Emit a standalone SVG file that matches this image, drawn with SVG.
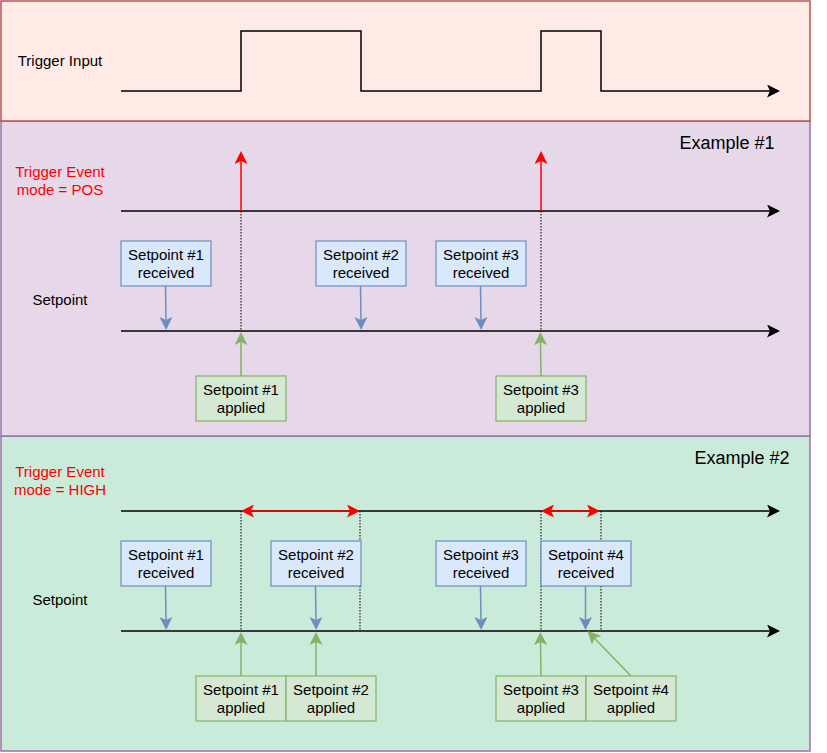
<svg xmlns="http://www.w3.org/2000/svg" width="827" height="753" viewBox="0 0 827 753">
<defs>
<style>
text{font-family:"Liberation Sans",Arial,sans-serif;font-size:15px;fill:#000;text-anchor:middle}
.red{fill:#ff0000}
.big{font-size:18px}
.ax{stroke:#000;stroke-width:1.5;fill:none}
.rd{stroke:#ff0000;stroke-width:1.5;fill:none}
.bl{stroke:#6c8ebf;stroke-width:1.5;fill:none}
.gr{stroke:#82b366;stroke-width:1.5;fill:none}
.dot{stroke:#222;stroke-width:1.2;stroke-dasharray:1.5 1.5;fill:none}
.rb{fill:#dae8fc;stroke:#6c8ebf;stroke-width:1.2}
.gb{fill:#d5e8d4;stroke:#82b366;stroke-width:1.2}
</style>
<marker id="ak" viewBox="0 0 13 13" refX="3" refY="6.5" markerWidth="13" markerHeight="13" markerUnits="userSpaceOnUse" orient="auto-start-reverse"><path d="M0,0 L13,6.5 L0,13 L3,6.5 Z" fill="#000"/></marker>
<marker id="ar" viewBox="0 0 13 13" refX="3" refY="6.5" markerWidth="13" markerHeight="13" markerUnits="userSpaceOnUse" orient="auto-start-reverse"><path d="M0,0 L13,6.5 L0,13 L3,6.5 Z" fill="#ff0000"/></marker>
<marker id="ab" viewBox="0 0 13 13" refX="3" refY="6.5" markerWidth="13" markerHeight="13" markerUnits="userSpaceOnUse" orient="auto-start-reverse"><path d="M0,0 L13,6.5 L0,13 L3,6.5 Z" fill="#6c8ebf"/></marker>
<marker id="ag" viewBox="0 0 13 13" refX="3" refY="6.5" markerWidth="13" markerHeight="13" markerUnits="userSpaceOnUse" orient="auto-start-reverse"><path d="M0,0 L13,6.5 L0,13 L3,6.5 Z" fill="#82b366"/></marker>
</defs>

<g id="panels">
<rect id="panel-ex2" x="1" y="436" width="809" height="315" fill="#cbebda" stroke="#9673a6" stroke-width="1.5"/>
<rect id="panel-ex1" x="1" y="121" width="809" height="315" fill="#e6d8e9" stroke="#9673a6" stroke-width="1.5"/>
<rect id="panel-input" x="1" y="1" width="809" height="120" fill="#ffeae6" stroke="#b85450" stroke-width="1.5"/>
</g>

<g id="labels">
<text x="60" y="66">Trigger Input</text>
<text x="60" y="177" class="red">Trigger Event</text>
<text x="60" y="195" class="red">mode = POS</text>
<text x="60" y="305">Setpoint</text>
<text x="727" y="149" class="big">Example #1</text>
<text x="60" y="477" class="red">Trigger Event</text>
<text x="60" y="495" class="red">mode = HIGH</text>
<text x="60" y="605">Setpoint</text>
<text x="742" y="464" class="big">Example #2</text>
</g>

<g id="connectors">
<path class="ax" d="M121,91 H241 V31 H361 V91 H541 V31 H601 V91 H770" marker-end="url(#ak)"/>
<line class="dot" x1="241" y1="211" x2="241" y2="331"/>
<line class="dot" x1="541" y1="211" x2="541" y2="331"/>
<line class="ax" x1="121" y1="211" x2="770" y2="211" marker-end="url(#ak)"/>
<line class="ax" x1="121" y1="331" x2="770" y2="331" marker-end="url(#ak)"/>
<line class="rd" x1="241" y1="211" x2="241" y2="161" marker-end="url(#ar)"/>
<line class="rd" x1="541" y1="211" x2="541" y2="161" marker-end="url(#ar)"/>
<line class="bl" x1="165.5" y1="286" x2="166" y2="320" marker-end="url(#ab)"/>
<line class="bl" x1="360.5" y1="286" x2="361" y2="320" marker-end="url(#ab)"/>
<line class="bl" x1="480.5" y1="286" x2="481" y2="320" marker-end="url(#ab)"/>
<line class="gr" x1="241" y1="376" x2="241" y2="342" marker-end="url(#ag)"/>
<line class="gr" x1="541" y1="376" x2="540.5" y2="342" marker-end="url(#ag)"/>
<line class="dot" x1="241" y1="511" x2="241" y2="631"/>
<line class="dot" x1="360" y1="511" x2="360" y2="631"/>
<line class="dot" x1="541" y1="511" x2="541" y2="631"/>
<line class="dot" x1="601" y1="511" x2="601" y2="631"/>
<line class="ax" x1="121" y1="511" x2="770" y2="511" marker-end="url(#ak)"/>
<line class="ax" x1="121" y1="631" x2="770" y2="631" marker-end="url(#ak)"/>
<line class="rd" x1="251" y1="511" x2="350" y2="511" marker-start="url(#ar)" marker-end="url(#ar)"/>
<line class="rd" x1="551" y1="511" x2="590" y2="511" marker-start="url(#ar)" marker-end="url(#ar)"/>
<line class="bl" x1="165.5" y1="586" x2="166" y2="620" marker-end="url(#ab)"/>
<line class="bl" x1="315.5" y1="586" x2="316" y2="620" marker-end="url(#ab)"/>
<line class="bl" x1="480.5" y1="586" x2="481" y2="620" marker-end="url(#ab)"/>
<line class="bl" x1="585.5" y1="586" x2="585.5" y2="620" marker-end="url(#ab)"/>
<line class="gr" x1="241" y1="676" x2="241" y2="642" marker-end="url(#ag)"/>
<line class="gr" x1="316" y1="676" x2="316" y2="642" marker-end="url(#ag)"/>
<line class="gr" x1="541" y1="676" x2="540.5" y2="642" marker-end="url(#ag)"/>
<line class="gr" x1="631" y1="676" x2="594.5" y2="638.2" marker-end="url(#ag)"/>
</g>

<g id="ex1-recv1"><rect class="rb" x="121" y="241" width="90" height="45"/><text x="166" y="260">Setpoint #1</text><text x="166" y="278">received</text></g>
<g id="ex1-recv2"><rect class="rb" x="316" y="241" width="90" height="45"/><text x="361" y="260">Setpoint #2</text><text x="361" y="278">received</text></g>
<g id="ex1-recv3"><rect class="rb" x="436" y="241" width="90" height="45"/><text x="481" y="260">Setpoint #3</text><text x="481" y="278">received</text></g>
<g id="ex1-appl1"><rect class="gb" x="196" y="376" width="90" height="45"/><text x="241" y="395">Setpoint #1</text><text x="241" y="413">applied</text></g>
<g id="ex1-appl3"><rect class="gb" x="496" y="376" width="90" height="45"/><text x="541" y="395">Setpoint #3</text><text x="541" y="413">applied</text></g>

<g id="ex2-recv1"><rect class="rb" x="121" y="541" width="90" height="45"/><text x="166" y="560">Setpoint #1</text><text x="166" y="578">received</text></g>
<g id="ex2-recv2"><rect class="rb" x="271" y="541" width="90" height="45"/><text x="316" y="560">Setpoint #2</text><text x="316" y="578">received</text></g>
<g id="ex2-recv3"><rect class="rb" x="436" y="541" width="90" height="45"/><text x="481" y="560">Setpoint #3</text><text x="481" y="578">received</text></g>
<g id="ex2-recv4"><rect class="rb" x="541" y="541" width="90" height="45"/><text x="586" y="560">Setpoint #4</text><text x="586" y="578">received</text></g>
<g id="ex2-appl1"><rect class="gb" x="196" y="676" width="90" height="45"/><text x="241" y="695">Setpoint #1</text><text x="241" y="713">applied</text></g>
<g id="ex2-appl2"><rect class="gb" x="286" y="676" width="90" height="45"/><text x="331" y="695">Setpoint #2</text><text x="331" y="713">applied</text></g>
<g id="ex2-appl3"><rect class="gb" x="496" y="676" width="90" height="45"/><text x="541" y="695">Setpoint #3</text><text x="541" y="713">applied</text></g>
<g id="ex2-appl4"><rect class="gb" x="586" y="676" width="90" height="45"/><text x="631" y="695">Setpoint #4</text><text x="631" y="713">applied</text></g>
</svg>
